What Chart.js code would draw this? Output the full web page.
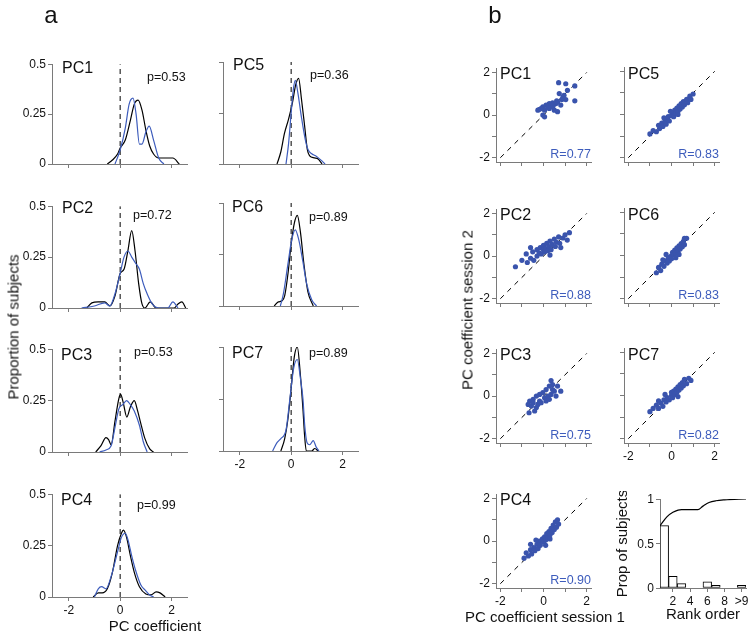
<!DOCTYPE html>
<html>
<head>
<meta charset="utf-8">
<script src="https://cdn.jsdelivr.net/npm/chart.js@4/dist/chart.umd.min.js"></script>
<style>
body { margin: 0; background: #fff; font-family: "Liberation Sans", Arial, sans-serif; }
#fig { position: relative; width: 750px; height: 643px; overflow: hidden; }
#fig canvas { position: absolute; }
.t { position: absolute; white-space: nowrap; color: #111; line-height: 1; }
</style>
</head>
<body>
<div id="fig"></div>
<script>
// ---- panel a: density curves, [pc coefficient, proportion]
const pc1Black = [[-0.5,0],[-0.3,0.02],[-0.1,0.05],[0,0.08],[0.2,0.12],[0.4,0.22],[0.55,0.3],[0.7,0.32],[0.85,0.27],[1.0,0.17],[1.15,0.09],[1.3,0.05],[1.5,0.03],[1.8,0.03],[2.05,0.03],[2.3,0]];
const pc1Blue = [[-0.2,0],[0,0.07],[0.2,0.18],[0.35,0.3],[0.5,0.33],[0.62,0.25],[0.75,0.1],[0.85,0.1],[1.0,0.16],[1.13,0.19],[1.3,0.12],[1.5,0.03],[1.7,0]];
const pc2Black = [[-1.3,0],[-1.1,0.025],[-0.85,0.03],[-0.6,0.03],[-0.4,0.01],[-0.2,0.06],[0,0.17],[0.15,0.19],[0.3,0.28],[0.45,0.38],[0.58,0.28],[0.72,0.12],[0.85,0.02],[0.96,0],[1.17,0.03],[1.4,0],[2.1,0],[2.25,0.02],[2.4,0.03],[2.55,0]];
const pc2Blue = [[-1.5,0],[-1.0,0.01],[-0.6,0.025],[-0.4,0.01],[-0.2,0.07],[0,0.17],[0.15,0.25],[0.3,0.28],[0.45,0.25],[0.6,0.22],[0.75,0.19],[0.9,0.12],[1.05,0.07],[1.25,0.02],[1.5,0],[1.85,0],[2.05,0.03],[2.25,0]];
const pc3Black = [[-0.95,0],[-0.75,0.03],[-0.55,0.07],[-0.45,0.06],[-0.35,0.035],[-0.2,0.15],[-0.05,0.26],[0.02,0.28],[0.12,0.24],[0.26,0.17],[0.4,0.22],[0.55,0.25],[0.68,0.2],[0.8,0.14],[0.95,0.07],[1.15,0.015],[1.3,0]];
const pc3Blue = [[-0.8,0],[-0.55,0.01],[-0.35,0.03],[-0.2,0.12],[-0.05,0.21],[0.1,0.23],[0.25,0.25],[0.4,0.23],[0.55,0.2],[0.75,0.13],[0.9,0.05],[1.05,0]];
const pc4Black = [[-1.05,0],[-0.85,0.02],[-0.7,0.02],[-0.5,0.04],[-0.3,0.12],[-0.1,0.25],[0.05,0.31],[0.13,0.325],[0.25,0.29],[0.4,0.2],[0.55,0.12],[0.75,0.05],[1.0,0.015],[1.2,0.01],[1.4,0.025],[1.55,0.02],[1.75,0]];
const pc4Blue = [[-1.0,0],[-0.85,0.04],[-0.72,0.05],[-0.55,0.04],[-0.35,0.1],[-0.1,0.22],[0.05,0.29],[0.2,0.31],[0.3,0.28],[0.45,0.2],[0.6,0.13],[0.8,0.06],[1.0,0.03],[1.15,0.01],[1.3,0]];
const pc5Black = [[-0.55,0],[-0.4,0.06],[-0.26,0.15],[-0.1,0.22],[0.05,0.3],[0.18,0.39],[0.29,0.42],[0.4,0.32],[0.53,0.18],[0.63,0.07],[0.72,0.04],[0.9,0.03],[1.05,0.025],[1.2,0]];
const pc5Blue = [[-0.2,0],[-0.1,0.1],[0,0.25],[0.08,0.36],[0.16,0.41],[0.26,0.35],[0.4,0.23],[0.55,0.12],[0.66,0.07],[0.8,0.05],[0.95,0.04],[1.15,0.02],[1.32,0]];
const pc6Black = [[-0.66,0],[-0.5,0.02],[-0.35,0.025],[-0.25,0.05],[-0.12,0.16],[0,0.3],[0.12,0.4],[0.24,0.44],[0.36,0.36],[0.5,0.2],[0.65,0.07],[0.86,0]];
const pc6Blue = [[-0.42,0],[-0.3,0.06],[-0.13,0.2],[0.02,0.32],[0.16,0.37],[0.3,0.32],[0.45,0.22],[0.6,0.11],[0.8,0.03],[0.99,0]];
const pc7Black = [[-0.4,0],[-0.25,0.06],[-0.13,0.15],[0,0.3],[0.12,0.45],[0.24,0.5],[0.35,0.38],[0.46,0.2],[0.52,0.08],[0.59,0],[0.8,0],[0.92,0.012],[1.05,0]];
const pc7Blue = [[-0.72,0],[-0.55,0.04],[-0.4,0.06],[-0.2,0.1],[-0.05,0.25],[0.1,0.4],[0.24,0.44],[0.36,0.35],[0.46,0.25],[0.53,0.12],[0.62,0.04],[0.72,0.03],[0.86,0.05],[0.97,0.02],[1.08,0]];
const pValues = ['p=0.53', 'p=0.72', 'p=0.53', 'p=0.99', 'p=0.36', 'p=0.89', 'p=0.89'];

// ---- panel b: session 1 vs session 2 coefficients
const pc1Pts = [[0.7,1.52],[1.03,1.47],[1.45,1.37],[1.11,1.16],[0.73,1.01],[0.95,0.93],[0.85,0.73],[0.61,0.67],[1.03,0.73],[1.45,0.67],[0.42,0.57],[0.27,0.54],[0.12,0.47],[-0.03,0.39],[-0.18,0.27],[0.05,0.23],[0.27,0.31],[0.42,0.39],[0.5,0.23],[0.65,0.16],[-0.03,0.0],[0.8,0.47],[0.58,0.54],[0.35,0.43],[-0.11,0.31],[-0.26,0.23],[0.05,-0.08],[0.2,0.35],[0.45,0.45],[0.65,0.62],[0.9,0.85]];
const pc2Pts = [[-1.3,-0.5],[-1.0,-0.2],[-0.8,0.1],[-0.75,-0.3],[-0.6,-0.1],[-0.5,0.2],[-0.45,-0.2],[-0.3,0.0],[-0.3,0.3],[-0.2,0.15],[-0.15,0.4],[-0.1,0.1],[0,0.3],[0,0.5],[0.05,0.2],[0.1,0.35],[0.15,0.6],[0.2,0.25],[0.25,0.45],[0.3,0.7],[0.35,0.3],[0.4,0.55],[0.5,0.8],[0.55,0.45],[0.6,0.65],[0.7,0.9],[0.75,0.6],[0.9,0.85],[1.0,1.0],[1.1,0.75],[1.2,1.1],[-0.6,0.4],[0.3,0.05],[0.8,0.4]];
const pc3Pts = [[0.35,0.73],[0.42,0.54],[0.27,0.47],[0.65,0.47],[0.8,0.23],[0.5,0.23],[0.12,0.31],[-0.03,0.16],[-0.18,0.08],[-0.33,0.0],[-0.48,-0.15],[-0.64,-0.23],[-0.71,-0.39],[-0.56,-0.46],[-0.33,-0.54],[-0.67,-0.78],[-0.41,-0.7],[-0.18,-0.23],[0.05,-0.08],[0.2,0.0],[0.35,0.08],[0.58,0.0],[-0.26,-0.39],[-0.11,-0.31],[0.12,-0.23],[-0.48,-0.31],[0.27,-0.15],[0.42,0.31]];
const pc4Pts = [[-0.9,-0.8],[-0.8,-0.55],[-0.7,-0.7],[-0.6,-0.4],[-0.55,-0.6],[-0.45,-0.3],[-0.4,-0.45],[-0.3,-0.15],[-0.25,-0.35],[-0.2,0.0],[-0.15,-0.2],[-0.05,0.1],[0,-0.05],[0.05,0.2],[0.1,0.05],[0.15,0.35],[0.2,0.15],[0.25,0.45],[0.3,0.3],[0.35,0.6],[0.4,0.4],[0.45,0.75],[0.5,0.55],[0.55,0.9],[0.6,0.65],[0.65,1.0],[0.7,0.8],[-0.35,0.05],[0.1,-0.2],[0.3,0.1],[-0.6,-0.15]];
const pc5Pts = [[-1.0,-0.9],[-0.85,-0.75],[-0.7,-0.8],[-0.6,-0.5],[-0.55,-0.65],[-0.45,-0.4],[-0.4,-0.55],[-0.3,-0.3],[-0.25,-0.45],[-0.2,-0.2],[-0.15,-0.1],[-0.1,-0.3],[0,-0.05],[0.05,0.1],[0.1,-0.1],[0.15,0.2],[0.2,0.05],[0.25,0.3],[0.3,0.15],[0.35,0.4],[0.4,0.25],[0.45,0.5],[0.5,0.35],[0.55,0.6],[0.6,0.45],[0.7,0.7],[0.75,0.55],[0.85,0.85],[0.9,0.7],[1.0,0.95],[-0.05,0.15],[0.3,0.0],[-0.35,-0.15]];
const pc6Pts = [[-0.7,-0.8],[-0.6,-0.55],[-0.5,-0.7],[-0.45,-0.4],[-0.35,-0.5],[-0.3,-0.25],[-0.2,-0.35],[-0.15,-0.1],[-0.1,-0.25],[0,0],[0,-0.15],[0.05,0.15],[0.1,0.05],[0.15,0.25],[0.2,0.1],[0.25,0.35],[0.3,0.2],[0.35,0.45],[0.4,0.3],[0.45,0.55],[0.5,0.4],[0.55,0.65],[0.6,0.5],[0.7,0.8],[-0.25,0.05],[0.2,-0.1],[-0.4,-0.2],[0.35,0.05],[0.6,0.8]];
const pc7Pts = [[-1.0,-0.75],[-0.85,-0.6],[-0.7,-0.45],[-0.6,-0.6],[-0.5,-0.35],[-0.4,-0.5],[-0.35,-0.2],[-0.25,-0.3],[-0.2,-0.1],[-0.1,-0.2],[0,0],[0,0.15],[0.05,-0.1],[0.1,0.2],[0.15,0.05],[0.2,0.3],[0.25,0.15],[0.3,0.4],[0.35,0.25],[0.4,0.5],[0.45,0.35],[0.5,0.6],[0.55,0.45],[0.6,0.75],[0.7,0.55],[0.8,0.8],[0.9,0.7],[-0.3,0.05],[0.3,-0.05],[-0.6,-0.25]];
const rValues = ['R=0.77', 'R=0.88', 'R=0.75', 'R=0.90', 'R=0.83', 'R=0.83', 'R=0.82'];

// rank order histogram
const rankCats = [1, 2, 3, 4, 5, 6, 7, 8, 9, 10];
const rankProp = [0.70, 0.13, 0.05, 0, 0, 0.07, 0.03, 0, 0, 0.03];
const cumPoints = [[0.5,0.70],[1.3,0.80],[2.0,0.85],[2.6,0.875],[3.0,0.88],[4.9,0.88],[5.5,0.92],[6.2,0.96],[7.0,0.98],[8.0,0.99],[10.5,1.0]];

const densTicksX = [-2, 0, 2];
const densTicksY = [0, 0.25, 0.5];
const scatTicks = [-2, -1, 0, 1, 2];
const rankTicksX = [2, 4, 6, 8, 10];
const rankTicksY = [0, 0.5, 1];

const BLUE = '#3d5cbc';
const DOT = '#3a54ad';
const AXIS = '#7a7a7a';
const FONT = '"Liberation Sans", Arial, sans-serif';
const fig = document.getElementById('fig');
const pts = a => a.map(([x, y]) => ({ x, y }));

function scale(min, max, ticks, show, size, fmt) {
  return {
    type: 'linear', min, max, offset: false,
    afterBuildTicks: s => { s.ticks = ticks.map(v => ({ value: v })); },
    afterFit: s => { if (s.isHorizontal()) s.height = size; else s.width = size; },
    ticks: { display: show, autoSkip: false, maxRotation: 0, padding: 2, color: '#111',
             font: { family: FONT, size: 12 }, callback: fmt || (v => String(v)) },
    grid: { drawOnChartArea: false, tickLength: 4, color: AXIS, offset: false },
    border: { color: AXIS, width: 1 }
  };
}

// plot area (L,T,W,H) is in page pixels; canvas gets padding + axis room around it
function chart(L, T, W, H, yW, xH, type, datasets, xs, ys) {
  const c = document.createElement('canvas');
  c.width = 8 + yW + W + 10;
  c.height = 8 + H + xH + 8;
  c.style.left = (L - 8 - yW) + 'px';
  c.style.top = (T - 8) + 'px';
  fig.appendChild(c);
  return new Chart(c, {
    type, data: { datasets },
    options: {
      responsive: false, animation: false, events: [],
      layout: { padding: { left: 8, top: 8, right: 10, bottom: 8 } },
      plugins: { legend: { display: false }, tooltip: { enabled: false } },
      scales: { x: xs, y: ys }
    }
  });
}

function text(s, x, y, o = {}) {
  const d = document.createElement('div');
  d.className = 't';
  d.textContent = s;
  d.style.left = x + 'px';
  d.style.top = y + 'px';
  d.style.fontSize = (o.size || 12) + 'px';
  if (o.color) d.style.color = o.color;
  const tx = o.align === 'center' ? '-50%' : o.align === 'right' ? '-100%' : '0';
  d.style.transform = o.rot ? 'translate(-50%,-50%) rotate(-90deg)' : `translate(${tx},-50%)`;
  fig.appendChild(d);
}

// ---- panel a
const densPanels = [
  { black: pc1Black, blue: pc1Blue, L: 52, T: 63, H: 101, lab: 'PC1', lx: 62, ly: 68, px: 147, py: 77, left: true, xl: false },
  { black: pc2Black, blue: pc2Blue, L: 52, T: 205, H: 103, lab: 'PC2', lx: 62, ly: 208, px: 133, py: 215, left: true, xl: false },
  { black: pc3Black, blue: pc3Blue, L: 52, T: 348, H: 104, lab: 'PC3', lx: 61, ly: 355, px: 134, py: 352, left: true, xl: false },
  { black: pc4Black, blue: pc4Blue, L: 52, T: 493, H: 104, lab: 'PC4', lx: 61, ly: 500, px: 137, py: 505, left: true, xl: true },
  { black: pc5Black, blue: pc5Blue, L: 223, T: 62, H: 102, lab: 'PC5', lx: 233, ly: 65, px: 310, py: 75, left: false, xl: false },
  { black: pc6Black, blue: pc6Blue, L: 223, T: 203, H: 103, lab: 'PC6', lx: 232, ly: 207, px: 309, py: 217, left: false, xl: false },
  { black: pc7Black, blue: pc7Blue, L: 223, T: 347, H: 104, lab: 'PC7', lx: 232, ly: 353, px: 309, py: 353, left: false, xl: true }
];

densPanels.forEach((p, i) => {
  const line = { pointRadius: 0, borderWidth: 1.2, fill: false, cubicInterpolationMode: 'monotone' };
  chart(p.L, p.T, 135, p.H, p.left ? 34 : 5, p.xl ? 20 : 5, 'line', [
    { ...line, data: pts(p.blue), borderColor: BLUE },
    { ...line, data: pts(p.black), borderColor: '#000' },
    { data: [{ x: 0, y: 0 }, { x: 0, y: 0.5 }], borderColor: '#000', borderWidth: 1, borderDash: [5, 4], pointRadius: 0 }
  ],
  scale(-2.65, 2.6, densTicksX, p.xl, p.xl ? 20 : 5),
  scale(0, 0.5, densTicksY, p.left, p.left ? 34 : 5));
  text(p.lab, p.lx, p.ly, { size: 16 });
  text(pValues[i], p.px, p.py, { size: 12.5 });
});

text('a', 51, 15, { size: 24, align: 'center' });
text('Proportion of subjects', 13, 327, { size: 15, rot: true });
text('PC coefficient', 155, 625, { size: 15, align: 'center' });

// ---- panel b
const scatPanels = [
  { data: pc1Pts, L: 496, T: 67, lab: 'PC1', left: true, xl: false },
  { data: pc2Pts, L: 496, T: 208, lab: 'PC2', left: true, xl: false },
  { data: pc3Pts, L: 496, T: 348, lab: 'PC3', left: true, xl: false },
  { data: pc4Pts, L: 496, T: 493, lab: 'PC4', left: true, xl: true },
  { data: pc5Pts, L: 624, T: 67, lab: 'PC5', left: false, xl: false },
  { data: pc6Pts, L: 624, T: 208, lab: 'PC6', left: false, xl: false },
  { data: pc7Pts, L: 624, T: 348, lab: 'PC7', left: false, xl: true }
];
const evenOnly = v => (v % 2 === 0 ? String(v) : '');

scatPanels.forEach((p, i) => {
  chart(p.L, p.T, 95, 95, p.left ? 20 : 5, p.xl ? 20 : 5, 'scatter', [
    { data: pts(p.data), backgroundColor: DOT, borderWidth: 0, pointRadius: 2.6 },
    { data: [{ x: -2, y: -2 }, { x: 2, y: 2 }], showLine: true, borderColor: '#000', borderWidth: 1, borderDash: [5, 5], pointRadius: 0 }
  ],
  scale(-2.2, 2.2, scatTicks, p.xl, p.xl ? 20 : 5, evenOnly),
  scale(-2.2, 2.2, scatTicks, p.left, p.left ? 20 : 5, evenOnly));
  text(p.lab, p.L + 4, p.T + 7, { size: 16 });
  text(rValues[i], p.L + 95, p.T + 87, { size: 12.5, color: BLUE, align: 'right' });
});

// rank order histogram; y tick labels are placed from the chart's own y scale
const histY = scale(0, 1, rankTicksY, false, 46);
histY.title = { display: true, text: 'Prop of subjects', color: '#111', font: { family: FONT, size: 15 }, padding: 0 };
const hist = chart(660, 499, 86, 89, 46, 20, 'bar', [
  { type: 'line', data: pts(cumPoints), borderColor: '#000', borderWidth: 1.2, pointRadius: 0, cubicInterpolationMode: 'monotone' },
  { type: 'bar', data: rankCats.map((r, i) => ({ x: r, y: rankProp[i] })), backgroundColor: '#fff',
    borderColor: '#000', borderWidth: 1, borderSkipped: false, barPercentage: 1, categoryPercentage: 1 }
],
scale(0.5, 10.5, rankTicksX, true, 20, v => (v === 10 ? '>9' : String(v))),
histY);
const hy = hist.scales.y;
const hc = hist.canvas;
rankTicksY.forEach(v => {
  text(String(v), parseFloat(hc.style.left) + hy.right - 6, parseFloat(hc.style.top) + hy.getPixelForValue(v),
       { size: 12, align: 'right' });
});

text('b', 495, 15, { size: 24, align: 'center' });
text('PC coefficient session 2', 467, 310, { size: 15, rot: true });
text('PC coefficient session 1', 545, 616, { size: 15, align: 'center' });
text('Rank order', 703, 613, { size: 15, align: 'center' });
</script>
</body>
</html>
